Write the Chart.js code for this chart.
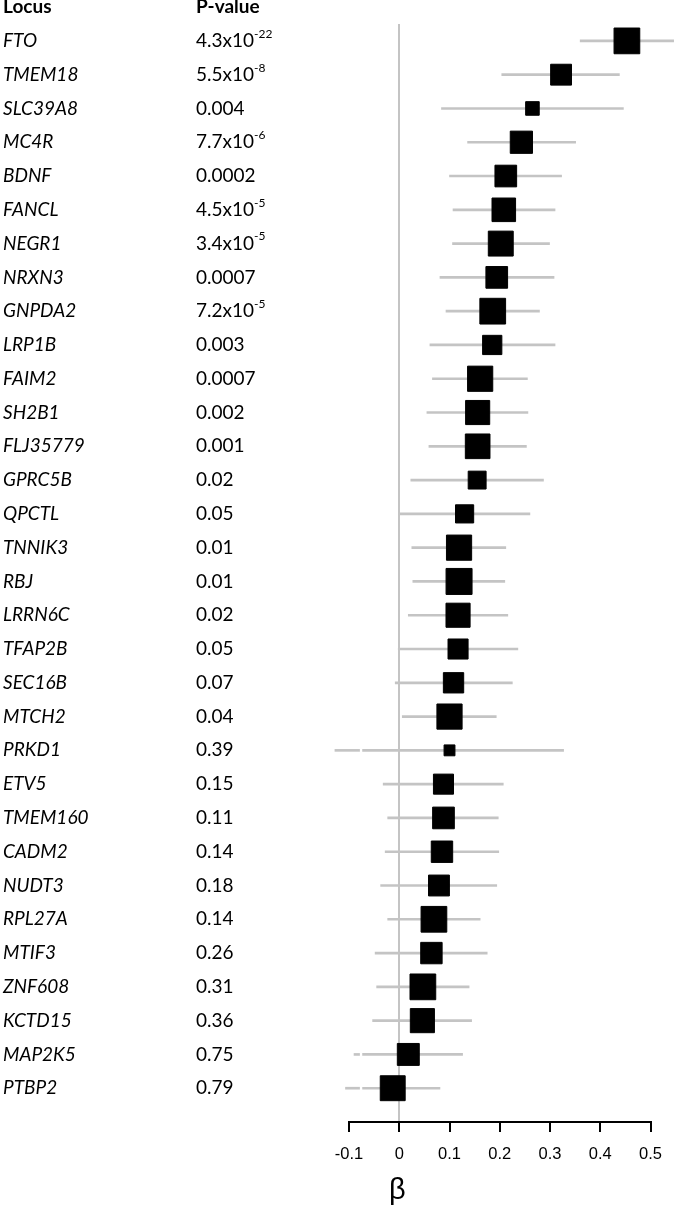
<!DOCTYPE html>
<html>
<head>
<meta charset="utf-8">
<script src="https://cdn.jsdelivr.net/npm/chart.js@4"></script>
<style>
  body { margin: 0; background: #fff; }
  #forest { display: block; }
</style>
</head>
<body>
<canvas id="forest" width="675" height="1208"></canvas>
<script>

// DATA
const loci = [
    "FTO", "TMEM18", "SLC39A8", "MC4R", "BDNF", "FANCL", "NEGR1", "NRXN3",
    "GNPDA2", "LRP1B", "FAIM2", "SH2B1", "FLJ35779", "GPRC5B", "QPCTL", "TNNIK3",
    "RBJ", "LRRN6C", "TFAP2B", "SEC16B", "MTCH2", "PRKD1", "ETV5", "TMEM160",
    "CADM2", "NUDT3", "RPL27A", "MTIF3", "ZNF608", "KCTD15", "MAP2K5", "PTBP2"
];

// "^" marks the exponent
const pValues = [
    "4.3x10^-22", "5.5x10^-8", "0.004", "7.7x10^-6", "0.0002", "4.5x10^-5", "3.4x10^-5", "0.0007",
    "7.2x10^-5", "0.003", "0.0007", "0.002", "0.001", "0.02", "0.05", "0.01",
    "0.01", "0.02", "0.05", "0.07", "0.04", "0.39", "0.15", "0.11",
    "0.14", "0.18", "0.14", "0.26", "0.31", "0.36", "0.75", "0.79"
];

const beta = [
    0.453, 0.322, 0.265, 0.243, 0.212, 0.208, 0.202, 0.194,
    0.186, 0.185, 0.161, 0.156, 0.156, 0.155, 0.130, 0.119,
    0.119, 0.117, 0.117, 0.108, 0.100, 0.100, 0.088, 0.088,
    0.085, 0.079, 0.069, 0.064, 0.047, 0.046, 0.018, -0.013
];

const ciLower = [
    0.360, 0.204, 0.084, 0.136, 0.100, 0.107, 0.106, 0.081,
    0.093, 0.061, 0.066, 0.055, 0.059, 0.023, 0.001, 0.025,
    0.027, 0.018, -0.002, -0.008, 0.006, -0.128, -0.032, -0.023,
    -0.028, -0.037, -0.023, -0.048, -0.045, -0.053, -0.090, -0.107
];

const ciUpper = [
    0.546, 0.438, 0.446, 0.351, 0.323, 0.310, 0.299, 0.308,
    0.279, 0.310, 0.255, 0.256, 0.253, 0.287, 0.260, 0.212,
    0.210, 0.216, 0.236, 0.225, 0.193, 0.327, 0.207, 0.197,
    0.198, 0.194, 0.161, 0.175, 0.139, 0.144, 0.126, 0.081
];

// relative weight of each locus (box size)
const weights = [
    0.99, 0.81, 0.54, 0.86, 0.84, 0.91, 0.96, 0.84,
    0.99, 0.75, 0.97, 0.93, 0.95, 0.70, 0.71, 0.97,
    1.00, 0.93, 0.78, 0.79, 0.97, 0.44, 0.78, 0.84,
    0.83, 0.81, 0.99, 0.83, 0.99, 0.93, 0.85, 0.96
];

const xTicks = [-0.1, 0, 0.1, 0.2, 0.3, 0.4, 0.5];
const xTickLabels = ["-0.1", "0", "0.1", "0.2", "0.3", "0.4", "0.5"];

// small break in the long lower whiskers
const breakFrom = -0.079;
const breakTo = -0.073;

// STYLE
const MAX_BOX = 27;
const GREY = "#c4c4c4";
const TEXT_FONT = "Lato";

// CI segments (floating bars)
const ciSegments = [];

loci.forEach((name, i) => {

    if (ciLower[i] < breakFrom) {

        ciSegments.push({ y: i, x: [ciLower[i], breakFrom] });

        ciSegments.push({ y: i, x: [breakTo, ciUpper[i]] });

    } else {

        ciSegments.push({ y: i, x: [ciLower[i], ciUpper[i]] });
    }
});

const boxes = loci.map((name, i) => ({ x: beta[i], y: i }));

// TESTO A SINISTRA
const textColumns = {

    id: "textColumns",

    afterDraw(chart) {

        const ctx = chart.ctx;

        const yScale = chart.scales.y;

        const xScale = chart.scales.x;

        ctx.save();

        ctx.fillStyle = "#000";

        ctx.textBaseline = "middle";

        ctx.textAlign = "left";

        const headY = yScale.getPixelForValue(-1);

        ctx.font = "bold 19px " + TEXT_FONT;

        ctx.fillText("Locus", 3, headY);

        ctx.fillText("P-value", 196, headY);

        loci.forEach((name, i) => {

            const y = yScale.getPixelForValue(i);

            ctx.font = "italic 19px " + TEXT_FONT;

            ctx.fillText(name, 3, y);

            const parts = pValues[i].split("^");

            ctx.font = "19px " + TEXT_FONT;

            ctx.fillText(parts[0], 196, y);

            if (parts.length > 1) {

                const w = ctx.measureText(parts[0]).width;

                ctx.font = "12px " + TEXT_FONT;

                ctx.fillText(parts[1], 196 + w, y - 7);
            }
        });

        // beta
        ctx.font = "29px 'Liberation Sans'";

        ctx.textAlign = "center";

        ctx.textBaseline = "alphabetic";

        ctx.fillText("β", xScale.getPixelForValue(0) - 2, 1199);

        ctx.restore();
    }
};

const chart = new Chart(document.getElementById("forest"), {

    type: "scatter",

    data: {

        datasets: [
            {
                type: "scatter",
                label: "β",
                data: boxes,
                pointStyle: "rect",
                pointRadius: weights.map(w => (w * MAX_BOX - 1) / 1.4142),
                backgroundColor: "#000",
                borderColor: "#000",
                borderWidth: 1,
                order: 0,
                clip: false
            },
            {
                type: "bar",
                label: "95% CI",
                indexAxis: "y",
                data: ciSegments,
                backgroundColor: GREY,
                borderWidth: 0,
                barThickness: 2,
                order: 1,
                clip: false
            }
        ]
    },

    plugins: [textColumns],

    options: {

        responsive: false,

        animation: false,

        layout: {
            padding: { left: 349, right: 24, top: 24, bottom: 0 }
        },

        plugins: {
            legend: { display: false },
            tooltip: { enabled: false }
        },

        scales: {

            x: {
                type: "linear",
                min: -0.1,
                max: 0.5,
                beginAtZero: false,
                offset: false,
                afterBuildTicks: scale => {
                    scale.ticks = xTicks.map(v => ({ value: v }));
                },
                afterFit: scale => {
                    scale.height = 86;
                },
                border: { display: true, color: "#000", width: 2 },
                grid: {
                    offset: false,
                    drawOnChartArea: true,
                    color: c => (c.tick && c.tick.value === 0 ? GREY : "rgba(0,0,0,0)"),
                    lineWidth: 2,
                    drawTicks: true,
                    tickLength: 10,
                    tickColor: "#000",
                    tickWidth: 2
                },
                ticks: {
                    color: "#000",
                    padding: 13,
                    font: { family: "Liberation Sans", size: 16.5 },
                    callback: value => xTickLabels[xTicks.indexOf(value)]
                }
            },

            y: {
                type: "linear",
                display: false,
                reverse: true,
                offset: false,
                grid: { offset: false },
                min: -0.5,
                max: 32
            }
        }
    }
});
</script>
</body>
</html>
